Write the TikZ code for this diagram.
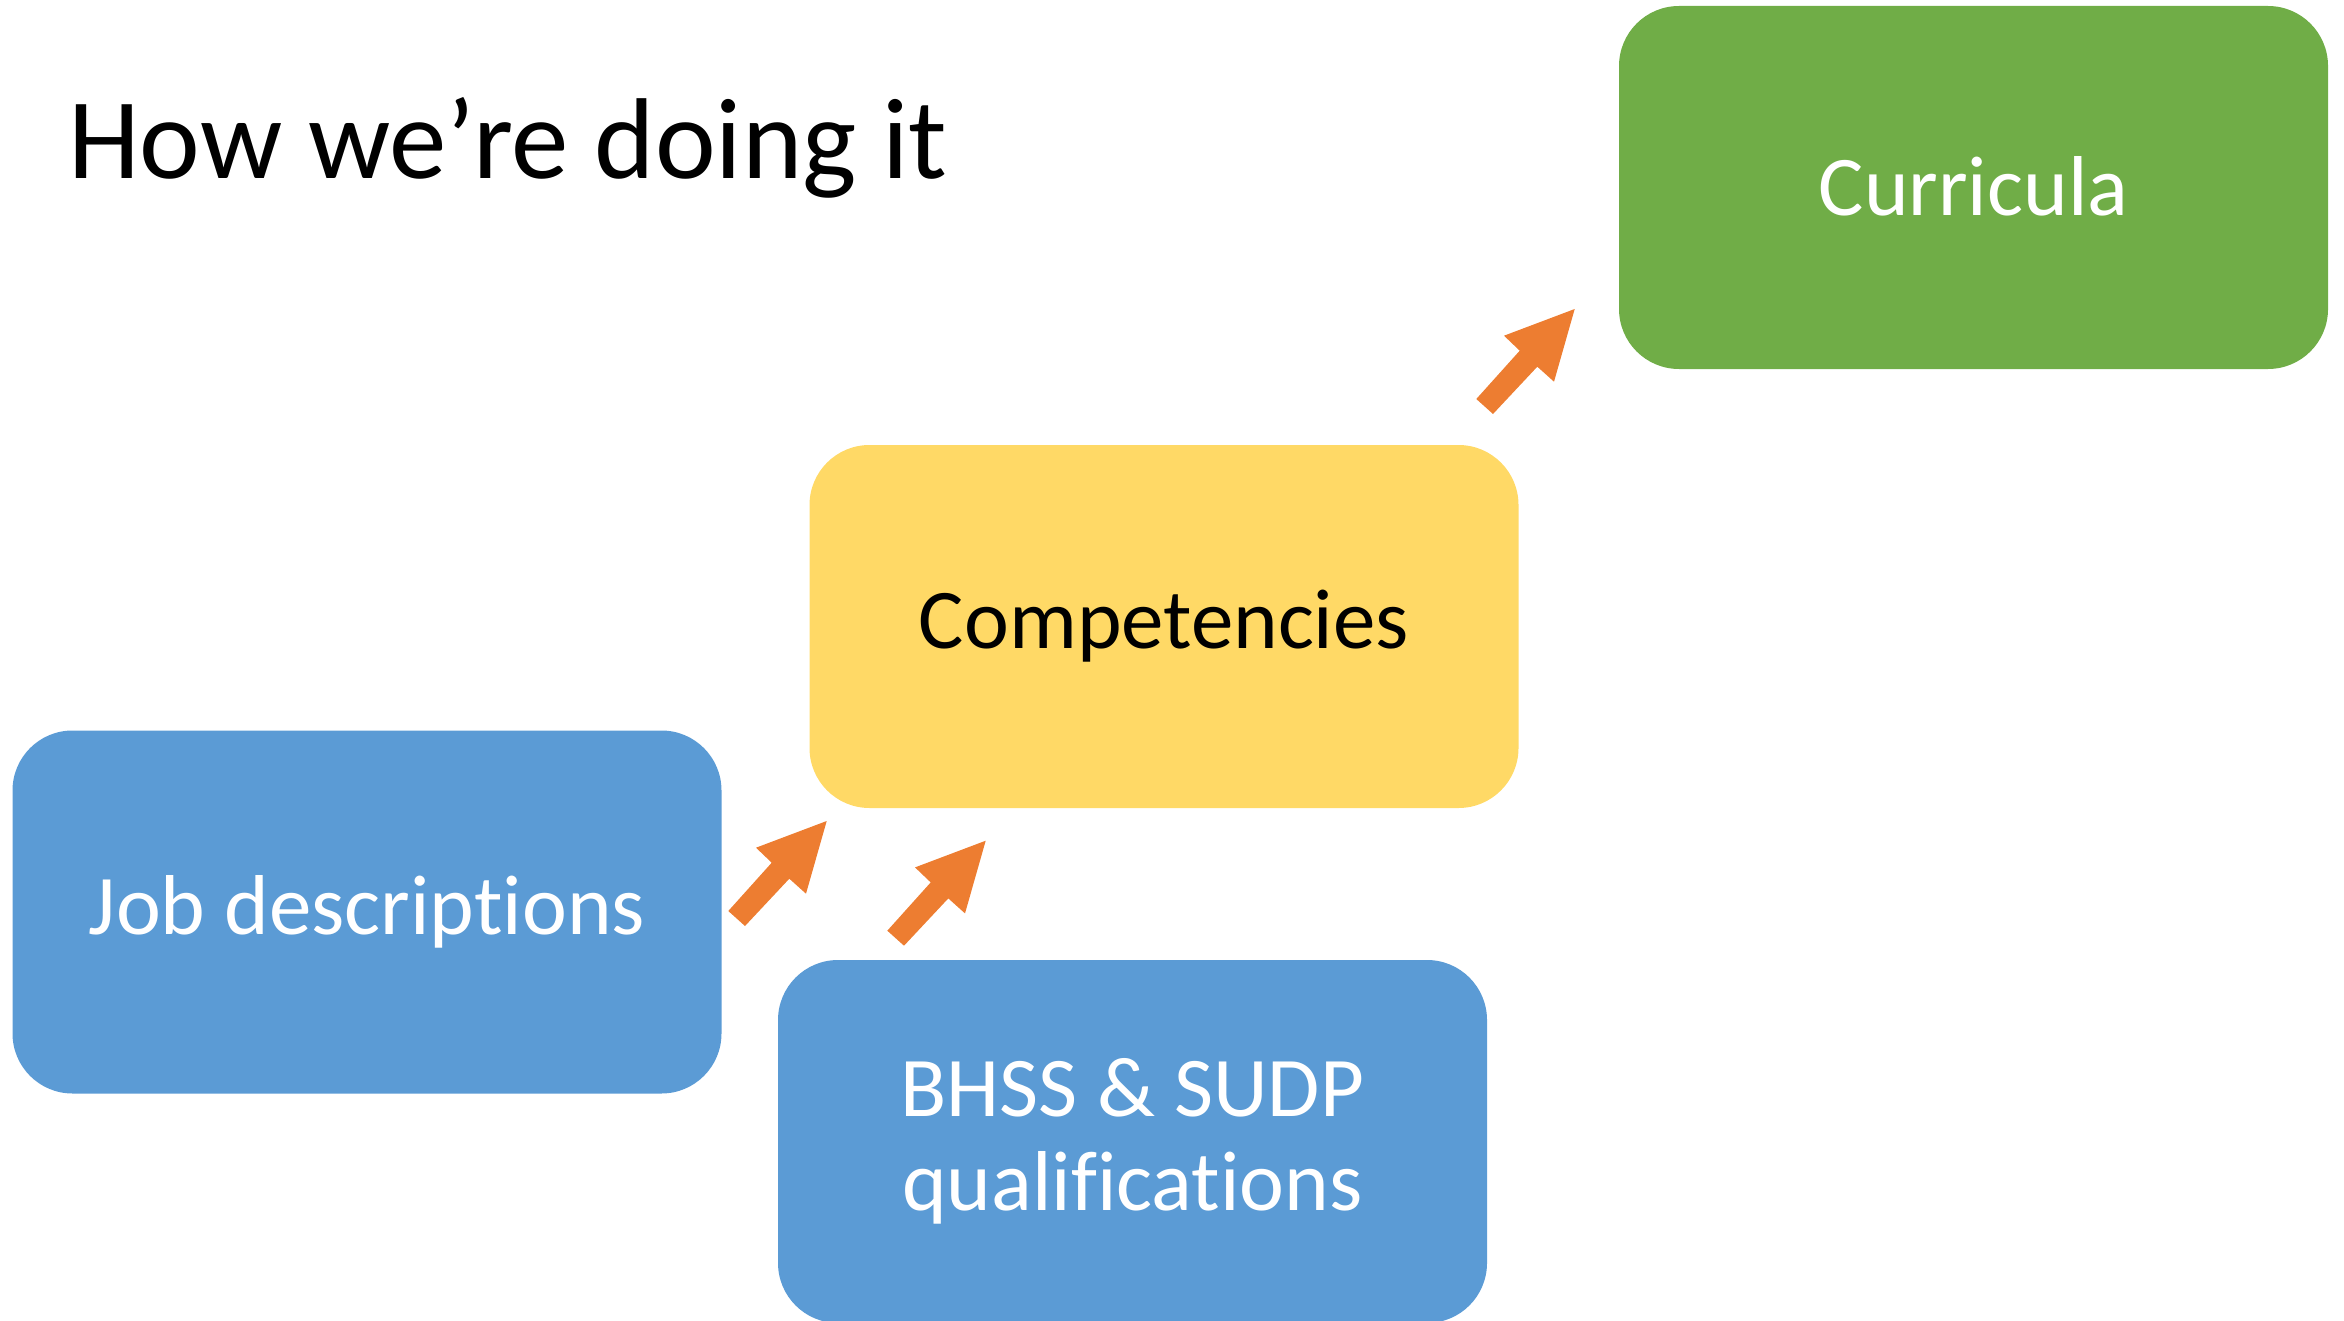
\documentclass[tikz,border=0pt]{standalone}
\usepackage{fontspec}
\setmainfont{Carlito}[Ligatures=NoCommon]
\definecolor{boxblue}{HTML}{5B9BD5}
\definecolor{boxyellow}{HTML}{FFD966}
\definecolor{boxgreen}{HTML}{70AD47}
\definecolor{arroworange}{HTML}{ED7D31}
\begin{document}
\begin{tikzpicture}[x=1pt,y=-1pt,
  box/.style={rounded corners=60pt, minimum width=709pt, minimum height=363pt,
    inner sep=0pt, align=center, font=\fontsize{85}{94}\selectfont},
  bluebox/.style={box, fill=boxblue, text=white},
  blockarrow/.pic={\fill[arroworange] (0,0) -- (-70.7,26.7) -- (-55,41.7) -- (-98.4,90)
    -- (-81.7,105) -- (-37.4,57.7) -- (-20.7,72.7) -- cycle;}
]
\useasboundingbox (0,0) rectangle (2344,1321);
\node[anchor=base west, inner sep=0pt, font=\fontsize{115}{138}\selectfont] (title) at (68,179) {How we’re doing it};
\node[box, fill=boxgreen, text=white] (curr) at (1973.5,187.5) {\raisebox{3pt}{Curricula}};
\node[box, fill=boxyellow, text=black] (comp) at (1164,626.5) {Competencies};
\node[bluebox] (job) at (367,912) {Job descriptions};
\node[bluebox] (bhss) at (1132.5,1141.5) {BHSS \& SUDP\\qualifications};
\coordinate (a1) at (826.7,821);
\coordinate (a2) at (985.7,840.7);
\coordinate (a3) at (1574.7,309);
\pic at (a1) {blockarrow};
\pic at (a2) {blockarrow};
\pic at (a3) {blockarrow};
\end{tikzpicture}
\end{document}
